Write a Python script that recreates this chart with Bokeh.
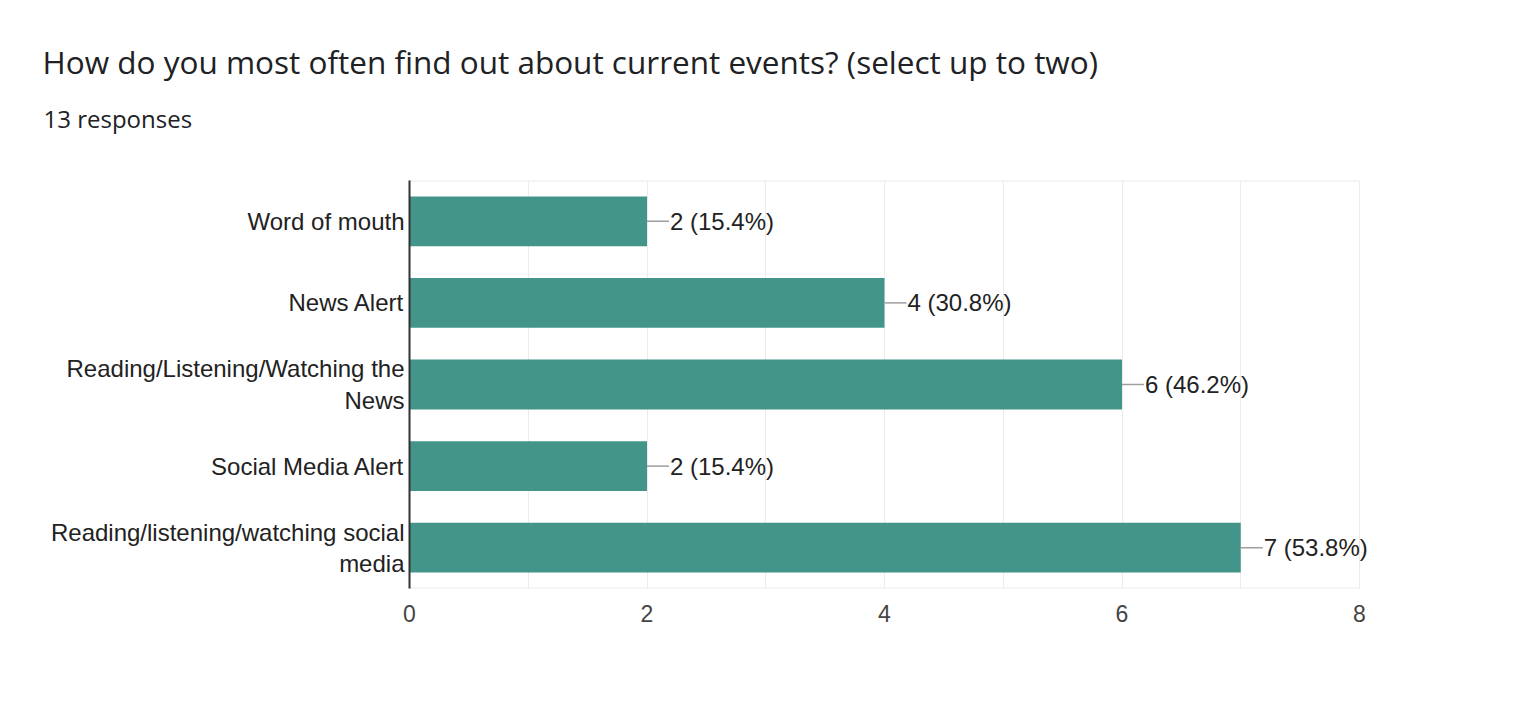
from bokeh.plotting import figure
from bokeh.models import (Range1d, ColumnDataSource, LabelSet, Title,
                          FixedTicker, SingleIntervalTicker)
from bokeh.core.properties import value
from bokeh.embed import file_html
from bokeh.resources import INLINE

# ---- data ----
categories = [
    "Word of mouth",
    "News Alert",
    "Reading/Listening/Watching the News",
    "Social Media Alert",
    "Reading/listening/watching social media",
]
category_lines = [
    ["Word of mouth"],
    ["News Alert"],
    ["Reading/Listening/Watching the", "News"],
    ["Social Media Alert"],
    ["Reading/listening/watching social", "media"],
]
counts = [2, 4, 6, 2, 7]
total_responses = 13
x_ticks = [0, 2, 4, 6, 8]
title_text = "How do you most often find out about current events? (select up to two)"
subtitle_text = "13 responses"

# ---- layout ----
W, H = 1516, 696
X_MAX = 8
FRAME_LEFT, FRAME_RIGHT_AT_MAX, FRAME_TOP, FRAME_BOTTOM = 409, 1359, 180, 588
px_per_unit = (FRAME_RIGHT_AT_MAX - FRAME_LEFT) / X_MAX
EXTRA_PX = 20                         # room so the last value label is not cut
x_end = X_MAX + EXTRA_PX / px_per_unit
B_LEFT = FRAME_LEFT
B_RIGHT = W - (FRAME_RIGHT_AT_MAX + EXTRA_PX)
B_TOP = FRAME_TOP
B_BOTTOM = H - FRAME_BOTTOM
band_px = (FRAME_BOTTOM - FRAME_TOP) / len(categories)
leader_units = 22 / px_per_unit
LINE_H_PX = 31
FONT = "Liberation Sans"

# category bands: 1000 y-units per category, first category at the top
UNIT = 1000
n = len(categories)
band_center = [(n - 1 - i) * UNIT + UNIT // 2 for i in range(n)]

labels = [f"{c} ({c / total_responses * 100:.1f}%)" for c in counts]
src = ColumnDataSource(dict(
    cat=categories,
    y=band_center,
    val=counts,
    lab=labels,
    lead_end=[c + leader_units for c in counts],
))

# y tick positions / texts for (possibly two-line) category labels
line_off = round(LINE_H_PX / 2 / band_px * UNIT)
lab_ticks, lab_over = [], {}
for center, lines in zip(band_center, category_lines):
    k = len(lines)
    for j, t in enumerate(lines):
        pos = int(center + round(((k - 1) / 2 - j) * 2 * line_off))
        lab_ticks.append(pos)
        lab_over[pos] = t

p = figure(
    width=W, height=H,
    y_range=Range1d(0, n * UNIT),
    x_range=Range1d(0, x_end),
    output_backend="svg", toolbar_location=None,
    min_border_left=B_LEFT, min_border_right=B_RIGHT,
    min_border_top=B_TOP, min_border_bottom=B_BOTTOM,
)
p.background_fill_color = "white"
p.border_fill_color = "white"
p.outline_line_color = None

# titles (stacked upward from the frame: spacer, subtitle, title)
spacer = Title(text=" ", text_font_size="1px", standoff=37)
sub = Title(text=subtitle_text, align="left", offset=-(B_LEFT - 43),
            text_font="Open Sans", text_font_size="24px", text_font_style="normal",
            text_color="#202124", standoff=12)
main = Title(text=title_text, align="left", offset=-(B_LEFT - 42),
             text_font="Open Sans", text_font_size="31.5px", text_font_style="normal",
             text_color="#202124", standoff=22)
p.add_layout(spacer, "above")
p.add_layout(sub, "above")
p.add_layout(main, "above")

# grid
p.ygrid.grid_line_color = None
p.xgrid.ticker = SingleIntervalTicker(interval=1)
p.xgrid.grid_line_color = "#ebebeb"
p.xgrid.grid_line_width = 1

# top / bottom frame borders (span 0..X_MAX only)
p.segment(x0=[0, 0], x1=[X_MAX, X_MAX], y0=[0, n * UNIT], y1=[0, n * UNIT],
          line_color="#ebebeb", line_width=2)

# bars
p.hbar(y="y", right="val", left=0, height=0.61 * UNIT, source=src,
       fill_color="#43958A", line_color=None)

# leader lines
p.segment(x0="val", y0="y", x1="lead_end", y1="y", source=src,
          line_color="#9e9e9e", line_width=1.5)

p.add_layout(LabelSet(x="lead_end", y="y", text="lab", source=src,
                      x_offset=1, text_baseline="middle", text_align="left",
                      text_font=value(FONT), text_font_size="24px",
                      text_color="#222222"))

# x axis
xa = p.xaxis[0]
xa.ticker = FixedTicker(ticks=x_ticks)
xa.axis_line_color = None
xa.major_tick_line_color = None
xa.minor_tick_line_color = None
xa.major_label_standoff = 10
xa.major_label_text_font = FONT
xa.major_label_text_font_size = "23px"
xa.major_label_text_color = "#444444"

# y axis with (multi-line) category labels
ya = p.yaxis[0]
ya.ticker = FixedTicker(ticks=lab_ticks)
ya.major_label_overrides = lab_over
ya.axis_line_color = "#333333"
ya.axis_line_width = 2
ya.major_tick_line_color = None
ya.major_tick_out = 0
ya.major_tick_in = 0
ya.minor_tick_line_color = None
ya.major_label_standoff = 5
ya.major_label_text_font = FONT
ya.major_label_text_font_size = "24px"
ya.major_label_text_color = "#222222"

open("out.html", "w").write(file_html(p, INLINE))
